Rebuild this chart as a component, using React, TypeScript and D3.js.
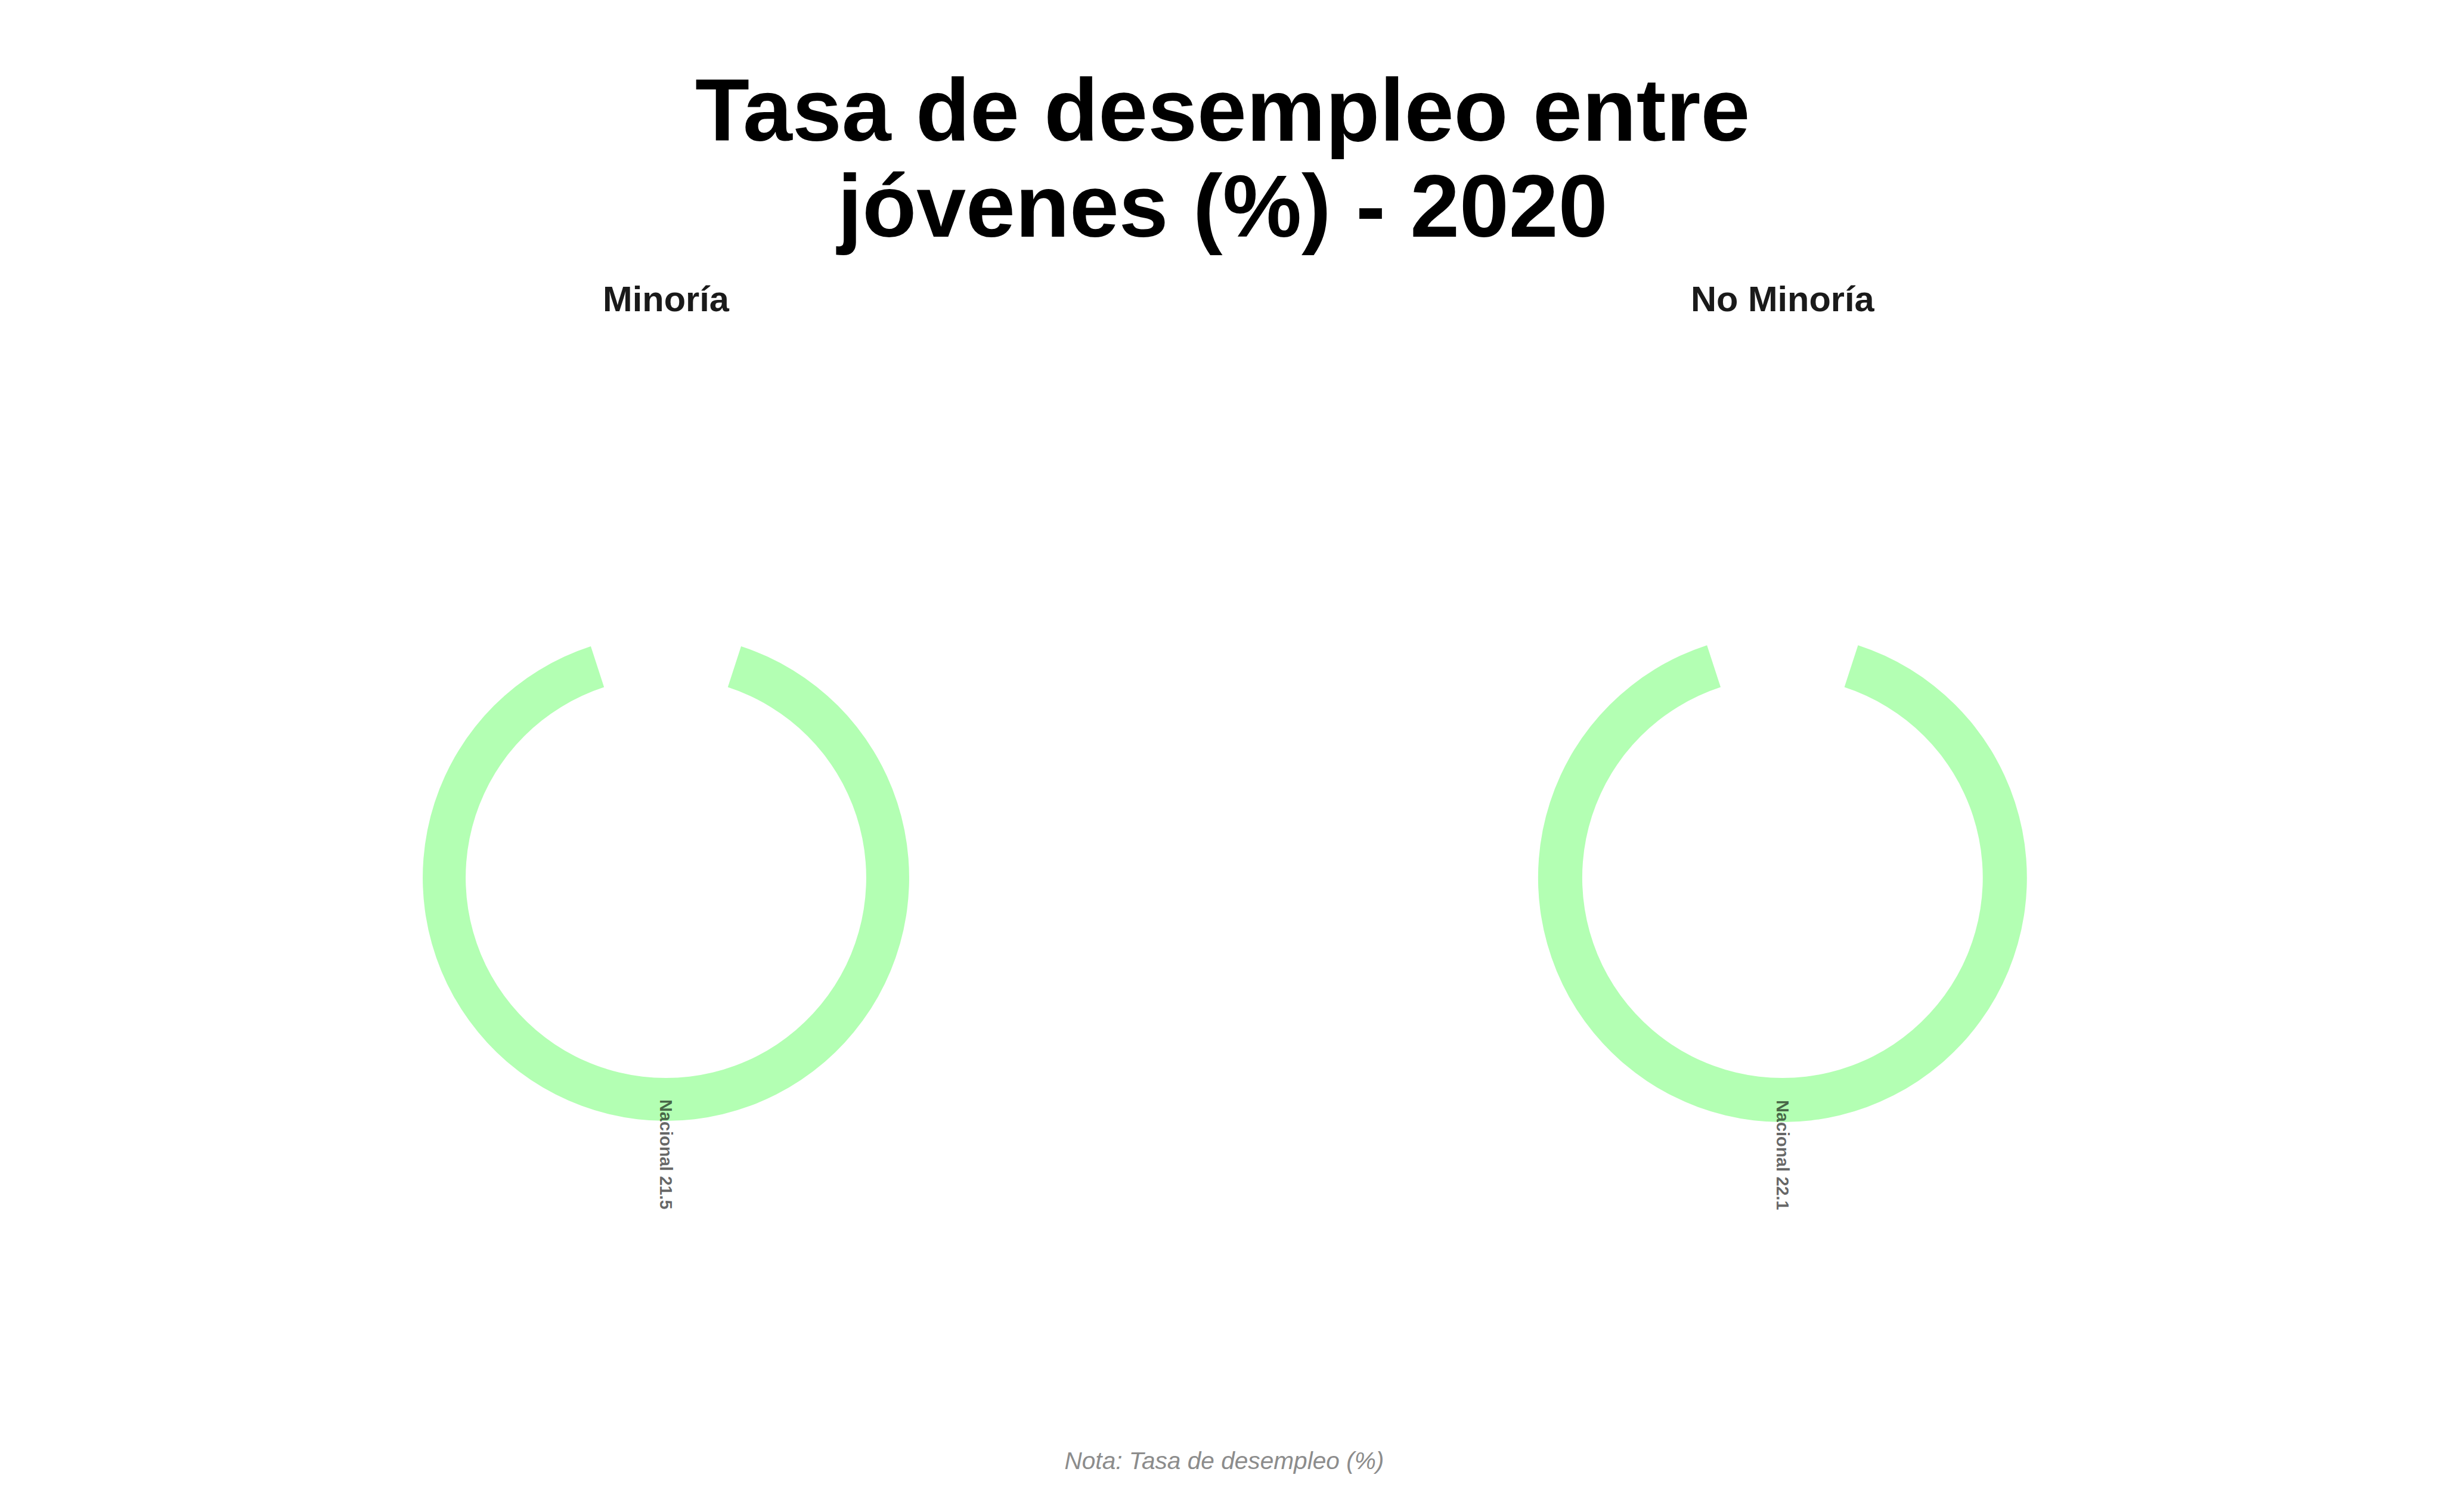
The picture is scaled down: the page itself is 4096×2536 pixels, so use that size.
import React from 'react';
import * as d3 from 'd3';

// facets and values
const groups = ['Minoría', 'No Minoría'];
const categories = ['Nacional'];
const values = [21.5, 22.1];
const titleLines = ['Tasa de desempleo entre', 'jóvenes (%) - 2020'];
const caption = 'Nota: Tasa de desempleo (%)';

const W = 4536;
const H = 2808;
const FONT = '"Liberation Sans", Arial, Helvetica, sans-serif';

const App = () => {
  // facet centres
  const fx = d3.scalePoint().domain(groups).range([1237, 3311]);
  const cy = 1630;

  // theta: one discrete category, bar width 0.9 of the circle
  const theta = d3.scaleBand()
    .domain(categories)
    .range([0, 2 * Math.PI])
    .paddingInner(0.1)
    .paddingOuter(0.05);

  const r = d3.scaleLinear().domain([0, d3.max(values)]).range([372, 454]);

  const arc = d3.arc();

  return (
    <svg
      width={4096}
      height={2536}
      viewBox={`0 0 ${W} ${H}`}
      style={{ position: 'absolute', left: 0, top: 0, background: '#fff' }}
    >
      <rect width={W} height={H} fill="#fff" />
      <text
        x={2271}
        textAnchor="middle"
        fontFamily={FONT}
        fontWeight="bold"
        fontSize={165}
        fill="#000"
      >
        {titleLines.map((t, i) => (
          <tspan key={i} x={2271} y={261 + i * 178}>{t}</tspan>
        ))}
      </text>

      {groups.map((g, gi) => {
        const cx = fx(g);
        const v = values[gi];
        return (
          <g key={g}>
            <text
              x={cx}
              y={578}
              textAnchor="middle"
              fontFamily={FONT}
              fontWeight="bold"
              fontSize={66}
              fill="#1A1A1A"
            >
              {g}
            </text>
            <g transform={`translate(${cx},${cy})`}>
              {categories.map(c => {
                const a0 = theta(c);
                const a1 = a0 + theta.bandwidth();
                const mid = (a0 + a1) / 2;
                const rm = (r(0) + r(v)) / 2;
                const lx = rm * Math.sin(mid);
                const ly = -rm * Math.cos(mid);
                return (
                  <g key={c}>
                    <path
                      d={arc({ innerRadius: r(0), outerRadius: r(v), startAngle: a0, endAngle: a1 })}
                      fill="#B3FFB3"
                    />
                    <text
                      transform={`translate(${lx},${ly}) rotate(90)`}
                      dy="0.35em"
                      textAnchor="start"
                      fontFamily={FONT}
                      fontWeight="bold"
                      fontSize={32}
                      fill="#000"
                      fillOpacity={0.6}
                    >
                      {`${c} ${v}`}
                    </text>
                  </g>
                );
              })}
            </g>
          </g>
        );
      })}

      <text
        x={2274}
        y={2728}
        textAnchor="middle"
        fontFamily={FONT}
        fontStyle="italic"
        fontSize={45}
        fill="#8C8C8C"
      >
        {caption}
      </text>
    </svg>
  );
};

export default App;
